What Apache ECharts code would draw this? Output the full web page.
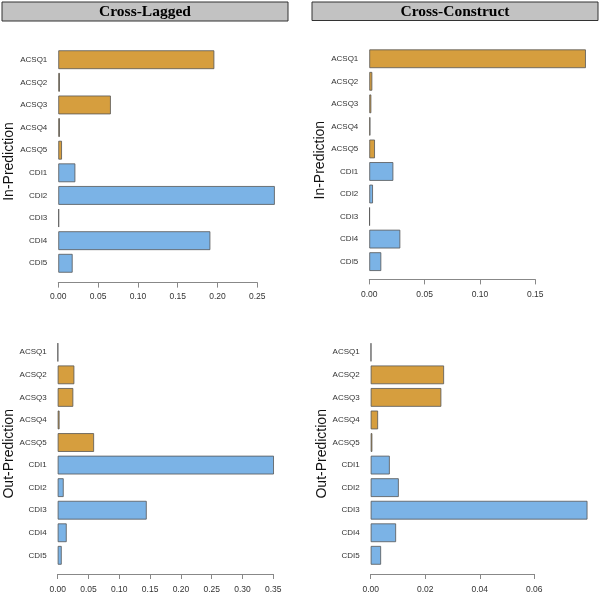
<!DOCTYPE html>
<html>
<head>
<meta charset="utf-8">
<script src="https://cdn.jsdelivr.net/npm/echarts@6/dist/echarts.min.js"></script>
<style>html,body{margin:0;padding:0;background:#fff}#c{width:600px;height:595px}</style>
</head>
<body>
<div id="c"></div>
<script>
const categories = ['ACSQ1','ACSQ2','ACSQ3','ACSQ4','ACSQ5','CDI1','CDI2','CDI3','CDI4','CDI5'];
const columnTitles = ['Cross-Lagged','Cross-Construct'];
const rowTitles = ['In-Prediction','Out-Prediction'];
const inLagged = [0.196, 0.002, 0.066, 0.002, 0.0046, 0.0214, 0.272, 0.001, 0.191, 0.018];
const inConstruct = [0.1957, 0.0027, 0.0018, 0.001, 0.0051, 0.0217, 0.0033, 0.0005, 0.028, 0.0108];
const outLagged = [0.0005, 0.027, 0.0253, 0.003, 0.059, 0.351, 0.0097, 0.1445, 0.0146, 0.0065];
const outConstruct = [0.0002, 0.0269, 0.0259, 0.0027, 0.0006, 0.007, 0.0103, 0.0795, 0.0093, 0.0038];
const axisMax = [0.25, 0.15, 0.35, 0.06];
const axisStep = [0.05, 0.05, 0.05, 0.02];

const ORANGE = '#D69E3E', BLUE = '#7BB3E6';
const panels = [
  {data: inLagged, left: 58.3, top: 48.4, width: 199, height: 226.2, offset: 8, margin: 10, name: rowTitles[0]},
  {data: inConstruct, left: 369.3, top: 47.5, width: 166, height: 225.4, offset: 6.5, margin: 11, name: rowTitles[0]},
  {data: outLagged, left: 57.7, top: 341, width: 215.6, height: 225.6, offset: 7.4, margin: 11, name: rowTitles[1]},
  {data: outConstruct, left: 370.7, top: 341, width: 163.6, height: 225.6, offset: 7.4, margin: 11, name: rowTitles[1]}
];

const grid = [], xAxis = [], yAxis = [], series = [];
panels.forEach((p, i) => {
  grid.push({left: p.left, top: p.top, width: p.width, height: p.height});
  xAxis.push({
    type: 'value', gridIndex: i, min: 0, max: axisMax[i], interval: axisStep[i],
    offset: p.offset, splitLine: {show: false},
    axisLine: {show: true, lineStyle: {color: '#888', width: 1}},
    axisTick: {show: true, length: 5, lineStyle: {color: '#888'}},
    axisLabel: {margin: p.margin, fontSize: 8.5, color: '#333', fontFamily: 'Liberation Sans',
      formatter: v => v.toFixed(2)}
  });
  yAxis.push({
    type: 'category', gridIndex: i, data: categories, inverse: true,
    axisLine: {show: false}, axisTick: {show: false},
    axisLabel: {margin: 11, fontSize: 8, color: '#333', fontFamily: 'Liberation Sans'},
    name: p.name, nameLocation: 'middle', nameRotate: 90, nameGap: 42,
    nameTextStyle: {fontSize: 14, color: '#111', fontFamily: 'Liberation Sans'}
  });
  series.push({
    type: 'bar', xAxisIndex: i, yAxisIndex: i, data: p.data, clip: false,
    barCategoryGap: '17%',
    itemStyle: {
      color: params => categories[params.dataIndex].startsWith('ACSQ') ? ORANGE : BLUE,
      borderColor: '#555', borderWidth: 0.8
    },
    emphasis: {disabled: true}
  });
});

const graphic = [
  {type: 'rect', shape: {x: 2, y: 2, width: 286, height: 19}, style: {fill: '#C2C2C2', stroke: '#333', lineWidth: 1}},
  {type: 'text', x: 145, y: 11.5, style: {text: columnTitles[0], font: 'bold 15.5px "Liberation Serif"', fill: '#000', align: 'center', verticalAlign: 'middle'}},
  {type: 'rect', shape: {x: 312, y: 2, width: 286, height: 18.5}, style: {fill: '#C2C2C2', stroke: '#333', lineWidth: 1}},
  {type: 'text', x: 455, y: 11.5, style: {text: columnTitles[1], font: 'bold 15.5px "Liberation Serif"', fill: '#000', align: 'center', verticalAlign: 'middle'}}
];

const chart = echarts.init(document.getElementById('c'), null, {renderer: 'canvas'});
chart.setOption({animation: false, backgroundColor: '#fff', grid, xAxis, yAxis, series, graphic});
</script>
</body>
</html>
